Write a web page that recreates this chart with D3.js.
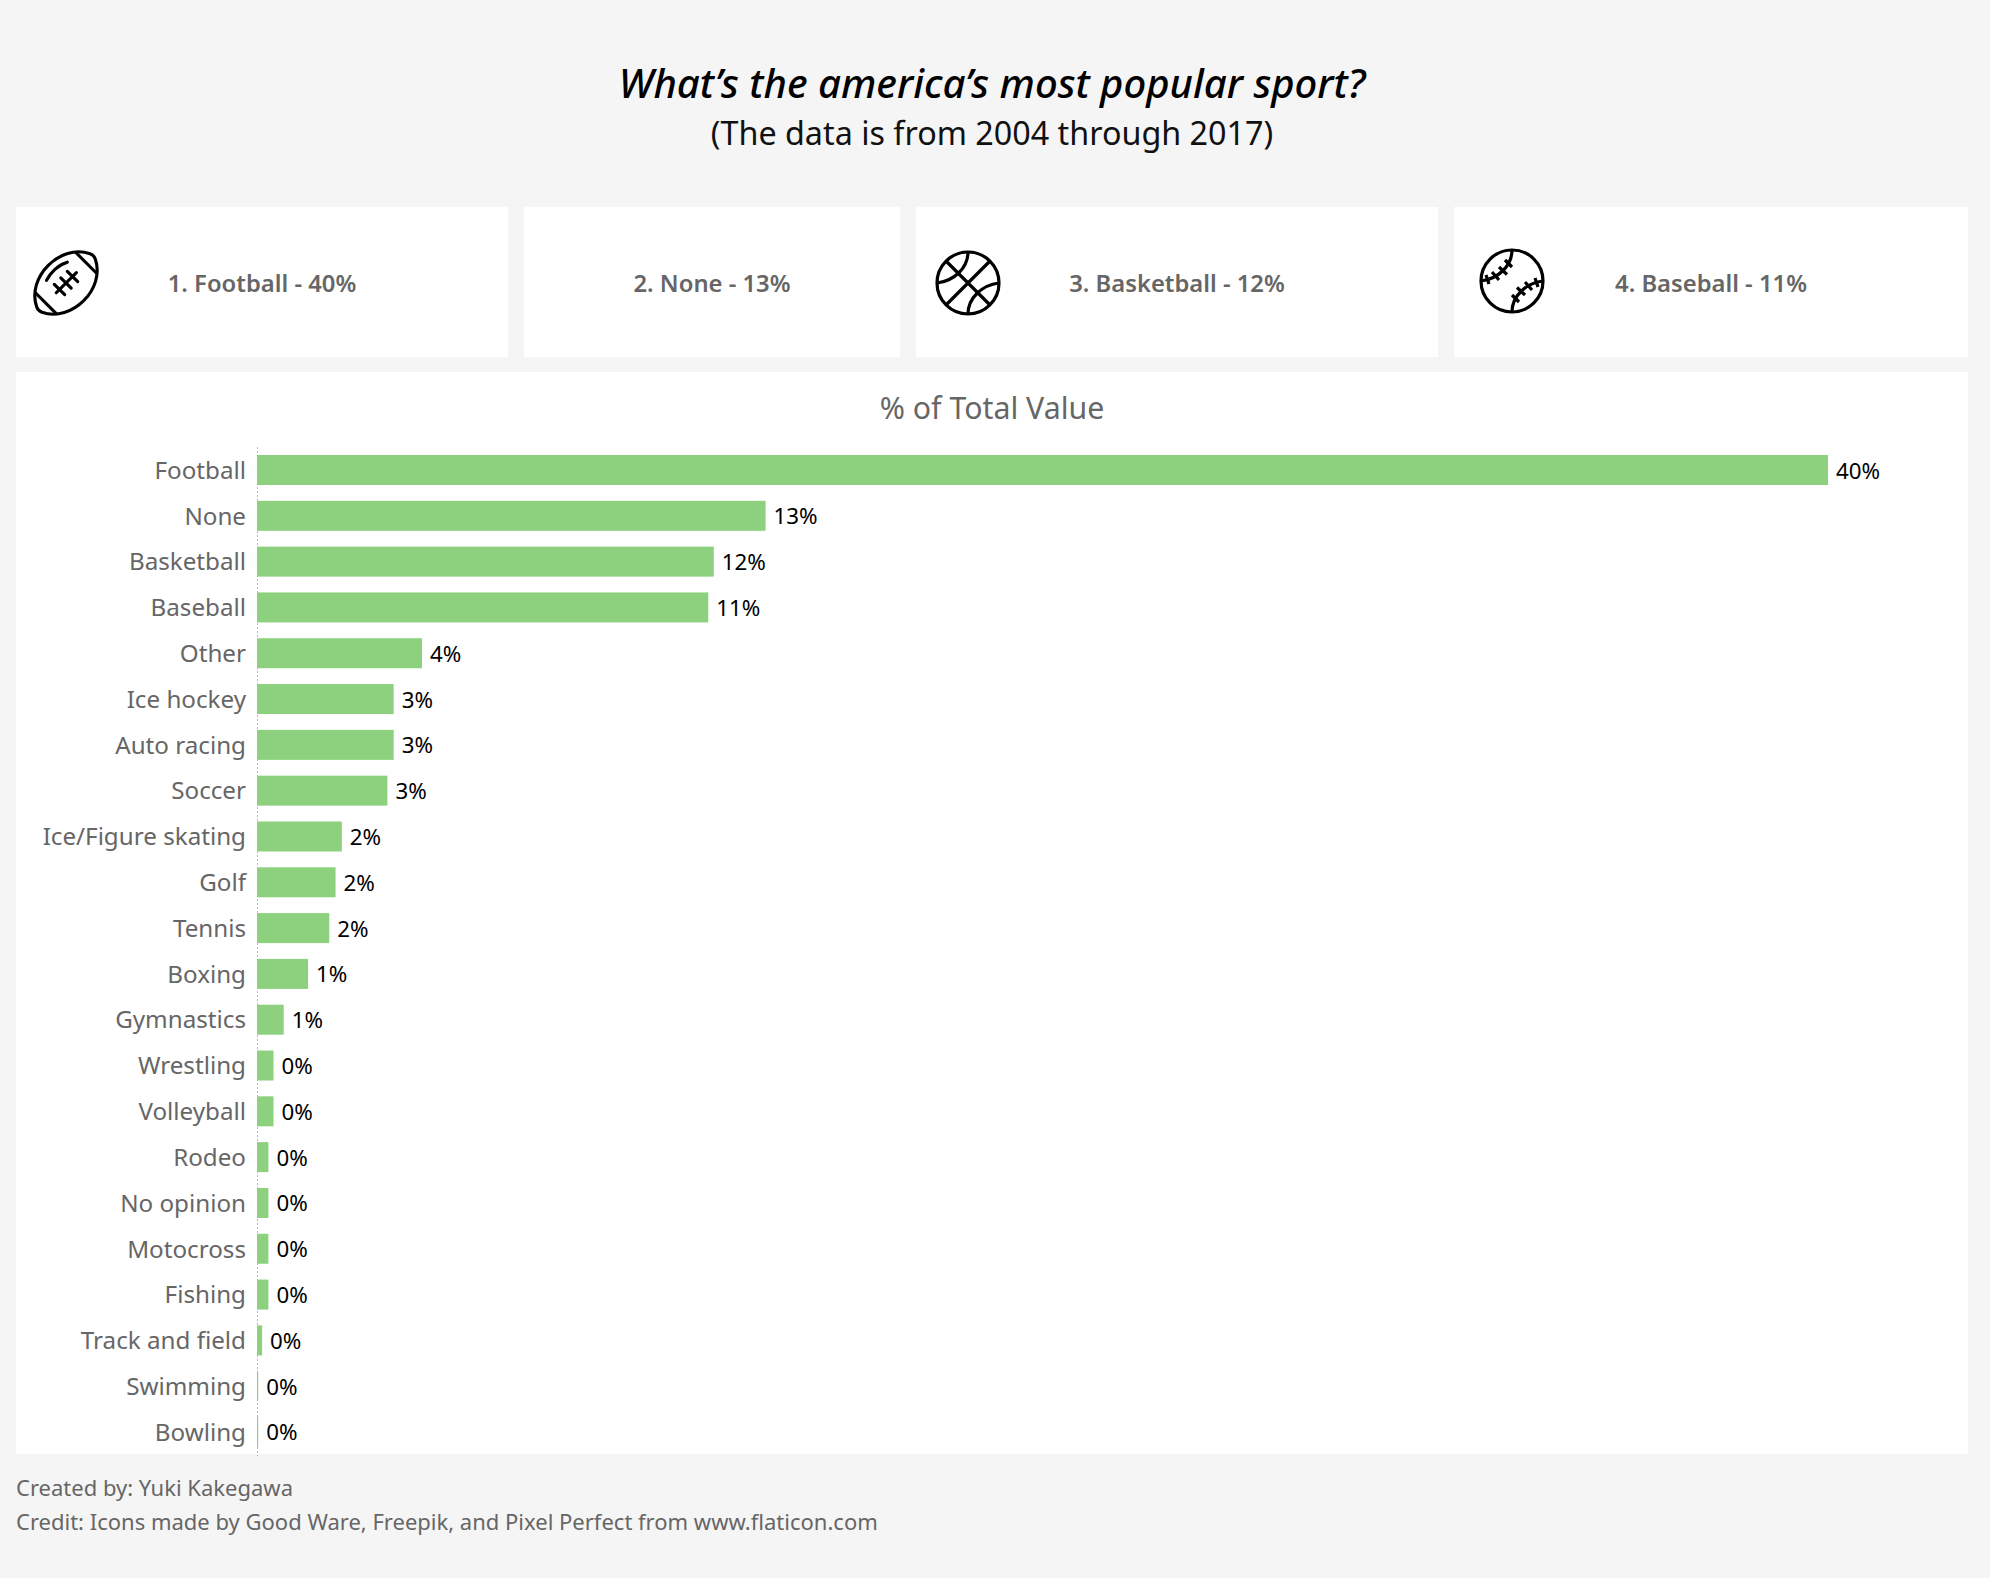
<!DOCTYPE html>
<html>
<head>
<meta charset="UTF-8">
<title>most popular sport</title>
<script src="https://d3js.org/d3.v7.min.js"></script>
<style>
  html, body { margin:0; padding:0; background:#f5f5f5; }
  svg { display:block; }
  text { font-family:"Noto Sans", sans-serif; }
</style>
</head>
<body>
<svg id="chart" width="1990" height="1578"></svg>
<script>
const sports = ['Football','None','Basketball','Baseball','Other','Ice hockey','Auto racing','Soccer',
  'Ice/Figure skating','Golf','Tennis','Boxing','Gymnastics','Wrestling','Volleyball','Rodeo',
  'No opinion','Motocross','Fishing','Track and field','Swimming','Bowling'];
const shares = [40.0,12.95,11.63,11.49,4.2,3.48,3.48,3.32,2.16,2.0,1.84,1.3,0.68,0.42,0.42,0.29,0.29,0.29,0.29,0.13,0.03,0.03];
const cardLabels = ['1. Football - 40%','2. None - 13%','3. Basketball - 12%','4. Baseball - 11%'];
const footerLines = ['Created by: Yuki Kakegawa','Credit: Icons made by Good Ware, Freepik, and Pixel Perfect from www.flaticon.com'];

const svg = d3.select('#chart');
const grey = '#666', green = '#8dd17e';

// title
svg.append('text').attr('x',992).attr('y',98).attr('text-anchor','middle')
  .style('font-size','40px').style('font-style','italic').style('font-weight',500).attr('fill','#000')
  .text('What’s the america’s most popular sport?');
svg.append('text').attr('x',992).attr('y',145).attr('text-anchor','middle')
  .style('font-size','32.3px').attr('fill','#111')
  .text('(The data is from 2004 through 2017)');

// kpi cards
const cardX = [[16,508],[524,900],[916,1438],[1454,1968]];
const cardTextX = [262,712,1177,1711];
svg.selectAll('rect.card').data(cardLabels).enter().append('rect').attr('class','card')
  .attr('x',(d,i)=>cardX[i][0]).attr('y',207).attr('width',(d,i)=>cardX[i][1]-cardX[i][0]).attr('height',150)
  .attr('fill','#fff');
svg.selectAll('text.card').data(cardLabels).enter().append('text').attr('class','card')
  .attr('x',(d,i)=>cardTextX[i]).attr('y',292).attr('text-anchor','middle')
  .style('font-size','23.8px').style('font-weight',600).attr('fill',grey).text(d=>d);

// icons
const ball = svg.append('g').attr('transform','translate(66,283) rotate(-45) scale(0.92)')
  .attr('fill','none').attr('stroke','#000').attr('stroke-width',3.4).attr('stroke-linecap','round');
ball.append('path').attr('d','M-41,-4 C-26,-35 26,-35 41,-4 Q43,0 41,4 C26,35 -26,35 -41,4 Q-43,0 -41,-4 Z');
ball.append('path').attr('d','M31,-16 V16 M-31,-16 V16');
ball.append('path').attr('d','M-15,0 H16 M-10,-8 V8 M0,-8 V8 M10,-8 V8');
ball.append('path').attr('d','M-13,-17 C-4,-20 8,-20 17,-15');

const bb = svg.append('g').attr('transform','translate(968,283)')
  .attr('fill','none').attr('stroke','#000').attr('stroke-width',3.2);
bb.append('ellipse').attr('rx',31).attr('ry',31);
bb.append('path').attr('d','M-22,-22 L22,22 M22,-22 L-22,22 M0,-31 C0,-15 -14,-2 -31,0 M0,31 C0,15 14,2 31,0');

const sb = svg.append('g').attr('transform','translate(1512,281)')
  .attr('fill','none').attr('stroke','#000').attr('stroke-width',3.2);
sb.append('ellipse').attr('rx',31).attr('ry',31);
sb.append('path').attr('d','M0,-31 C0,-15 -14,-2 -31,0 M0,31 C0,15 14,2 31,0');
sb.append('path').attr('d','M-7,-21 L0,-14 M-13,-14 L-5,-6.5 M-20,-9 L-13,-1 M-26,-6 L-23,3 M7,21 L0,14 M13,14 L5,6.5 M20,9 L13,1 M26,6 L23,-3');

// bar panel
svg.append('rect').attr('x',16).attr('y',372).attr('width',1952).attr('height',1082).attr('fill','#fff');
svg.append('text').attr('x',992).attr('y',419).attr('text-anchor','middle')
  .style('font-size','30.3px').attr('fill',grey).text('% of Total Value');

const x = d3.scaleLinear().domain([0,40]).range([257,1828]);
const y = d3.scaleBand().domain(sports).range([447.1,1454.9]).paddingInner(0.345).paddingOuter(0.1725);
const rows = sports.map((s,i)=>({s:s,v:shares[i]}));

svg.append('line').attr('x1',257.5).attr('x2',257.5).attr('y1',447).attr('y2',1456)
  .attr('stroke','#bbb').attr('stroke-dasharray','2,2');

svg.selectAll('rect.bar').data(rows).enter().append('rect').attr('class','bar')
  .attr('x',x(0)).attr('y',d=>y(d.s)).attr('width',d=>x(d.v)-x(0)).attr('height',y.bandwidth())
  .attr('fill',green);

svg.selectAll('text.val').data(rows).enter().append('text').attr('class','val')
  .attr('x',d=>x(d.v)+8).attr('y',d=>y(d.s)+y.bandwidth()/2+8.5)
  .style('font-size','22.3px').attr('fill','#000')
  .text(d=>d3.format('.0f')(d.v)+'%');

const yAxis = svg.append('g').attr('transform','translate(257,1)')
  .call(d3.axisLeft(y).tickSize(0).tickPadding(11));
yAxis.select('.domain').remove();
yAxis.selectAll('text').style('font-size','24.2px').style('font-family','"Noto Sans", sans-serif').attr('fill',grey);

// footer
svg.selectAll('text.foot').data(footerLines).enter().append('text').attr('class','foot')
  .attr('x',16).attr('y',(d,i)=>1496+i*34)
  .style('font-size','22px').attr('fill',grey).text(d=>d);
</script>
</body>
</html>
